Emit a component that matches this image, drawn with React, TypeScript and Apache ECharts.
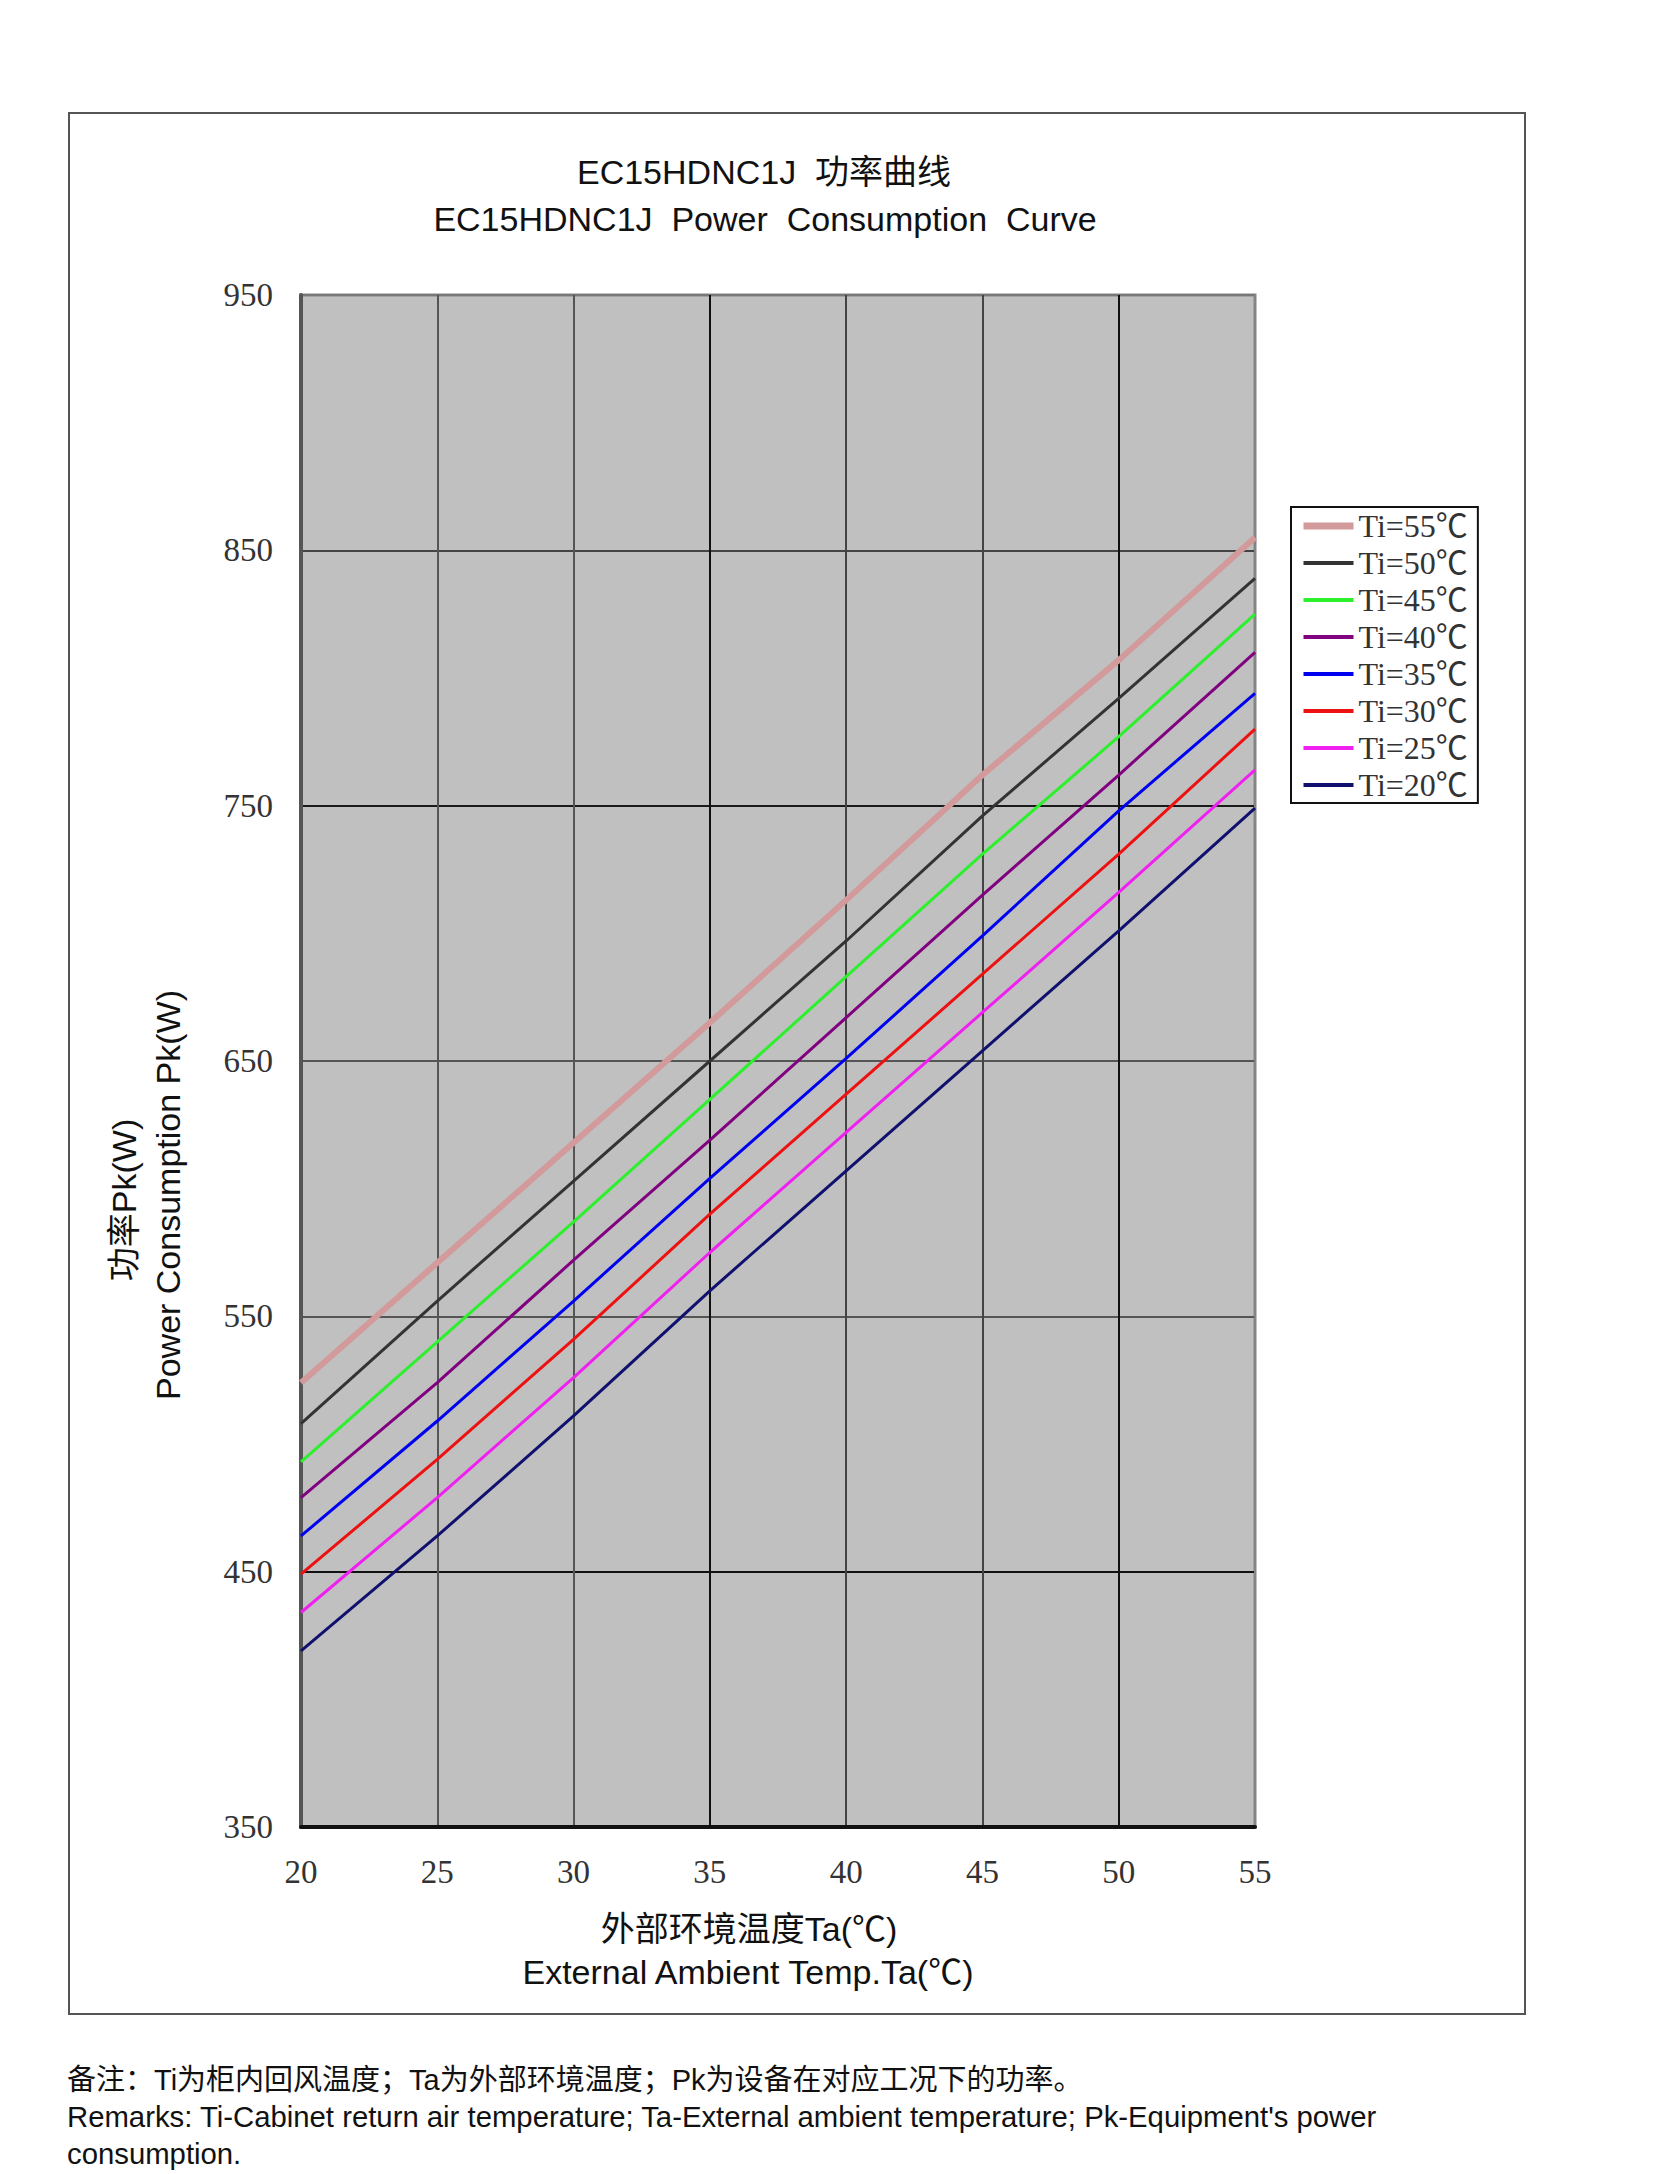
import React, { useEffect, useRef } from "react";
import * as echarts from "echarts";

// X axis: external ambient temperature Ta (℃)
const ambientTemps = [20, 25, 30, 35, 40, 45, 50, 55];
const xTickLabels = ["20", "25", "30", "35", "40", "45", "50", "55"];
const yTickLabels = ["350", "450", "550", "650", "750", "850", "950"];

// Series names (cabinet return air temperature Ti)
const seriesNames = ["Ti=55℃", "Ti=50℃", "Ti=45℃", "Ti=40℃", "Ti=35℃", "Ti=30℃", "Ti=25℃", "Ti=20℃"];

// Power consumption Pk (W) at Ta = 20..55
const ti55 = [524, 571, 618, 665, 713, 762, 807, 855];
const ti50 = [508, 556, 603, 650, 697, 746, 792, 839];
const ti45 = [493, 540, 587, 635, 683, 731, 777, 825];
const ti40 = [479, 524, 572, 619, 667, 715, 762, 810];
const ti35 = [464, 509, 556, 604, 651, 699, 748, 794];
const ti30 = [449, 494, 541, 590, 637, 684, 731, 780];
const ti25 = [434, 479, 526, 575, 622, 669, 716, 764];
const ti20 = [419, 464, 511, 560, 607, 654, 701, 749];

const seriesColors = ["#D29A9A", "#333333", "#2BF02B", "#800080", "#0000F0", "#EE1111", "#F020F0", "#10106E"];
const seriesWidths = [6, 3, 3, 3, 3, 3, 3, 3];
const legendWidths = [7, 4, 4, 4, 4, 4, 4, 4];

const SANS = "'Liberation Sans', Arial, 'Noto Sans CJK SC', sans-serif";
const SERIF = "'Liberation Serif', 'Times New Roman', 'Noto Sans CJK SC', serif";

function txt(x: number, y: number, text: string, size: number, family: string, align = "center", rotation = 0) {
  return {
    type: "text",
    x,
    y,
    rotation,
    style: {
      text,
      fontSize: size,
      fontFamily: family,
      fill: "#111",
      align,
      verticalAlign: "middle",
      textAlign: align,
      textVerticalAlign: "middle",
    },
  };
}

export default function App() {
  const ref = useRef<HTMLDivElement>(null);
  useEffect(() => {
    if (!ref.current) return;
    const chart = echarts.init(ref.current, undefined, { renderer: "svg" });
    const allSeries = [ti55, ti50, ti45, ti40, ti35, ti30, ti25, ti20];
    const option = {
      animation: false,
      backgroundColor: "#ffffff",
      grid: {
        left: 301,
        top: 295,
        width: 954,
        height: 1532,
        show: true,
        backgroundColor: "#C0C0C0",
        borderColor: "#858585",
        borderWidth: 3,
      },
      xAxis: {
        type: "value",
        min: 20,
        max: 55,
        interval: 5,
        axisLine: { show: true, onZero: false, lineStyle: { color: "#111", width: 4 } },
        axisTick: { show: false },
        axisLabel: {
          margin: 28,
          color: "#333",
          fontFamily: SERIF,
          fontSize: 33,
          formatter: (v: number) => xTickLabels[ambientTemps.indexOf(v)] ?? String(v),
        },
        splitLine: {
          show: true,
          lineStyle: { color: ["#555", "#555", "#555", "#111", "#444", "#444", "#111", "#858585"], width: 2 },
        },
      },
      yAxis: {
        type: "value",
        min: 350,
        max: 950,
        interval: 100,
        axisLine: { show: true, onZero: false, lineStyle: { color: "#555", width: 4 } },
        axisTick: { show: false },
        axisLabel: {
          margin: 28,
          color: "#333",
          fontFamily: SERIF,
          fontSize: 33,
          formatter: (v: number) => yTickLabels.find((t) => Number(t) === v) ?? String(v),
        },
        splitLine: {
          show: true,
          lineStyle: { color: ["#111", "#111", "#555", "#555", "#1a1a1a", "#444", "#777"], width: 2 },
        },
      },
      legend: {
        orient: "vertical",
        left: 1291,
        top: 507,
        padding: [3, 10, 2, 9],
        itemWidth: 50,
        itemHeight: 20,
        itemGap: 5,
        backgroundColor: "#ffffff",
        borderColor: "#111",
        borderWidth: 2,
        itemStyle: { opacity: 0 },
        textStyle: { fontFamily: SERIF, fontSize: 32, color: "#333" },
        data: seriesNames.map((name, i) => ({
          name,
          itemStyle: { opacity: 0 },
          lineStyle: { width: legendWidths[i], color: seriesColors[i], opacity: 1 },
        })),
      },
      series: seriesNames.map((name, i) => ({
        name,
        type: "line",
        symbol: "none",
        showSymbol: false,
        data: ambientTemps.map((t, j) => [t, allSeries[i][j]]),
        lineStyle: { color: seriesColors[i], width: seriesWidths[i] },
        itemStyle: { color: seriesColors[i] },
        z: 3,
      })),
      graphic: [
        {
          type: "rect",
          shape: { x: 69, y: 113, width: 1456, height: 1901 },
          style: { fill: "none", stroke: "#555", lineWidth: 2 },
        },
        txt(764, 172, "EC15HDNC1J  功率曲线", 34, SANS),
        txt(765, 219, "EC15HDNC1J  Power  Consumption  Curve", 34, SANS),
        txt(124, 1200, "功率Pk(W)", 34, SANS, "center", Math.PI / 2),
        txt(168, 1195, "Power Consumption Pk(W)", 34, SANS, "center", Math.PI / 2),
        txt(749, 1929, "外部环境温度Ta(℃)", 34, SANS),
        txt(748, 1972, "External Ambient Temp.Ta(℃)", 34, SANS),
        txt(67, 2080, "备注：Ti为柜内回风温度；Ta为外部环境温度；Pk为设备在对应工况下的功率。", 29, SANS, "left"),
        txt(67, 2116, "Remarks: Ti-Cabinet return air temperature; Ta-External ambient temperature; Pk-Equipment's power", 29.3, SANS, "left"),
        txt(67, 2153, "consumption.", 29.3, SANS, "left"),
      ],
    };
    chart.setOption(option as any);
    return () => chart.dispose();
  }, []);
  return (
    <div
      ref={ref}
      style={{ position: "absolute", left: 0, top: 0, width: 1653, height: 2174, background: "#ffffff" }}
    />
  );
}
